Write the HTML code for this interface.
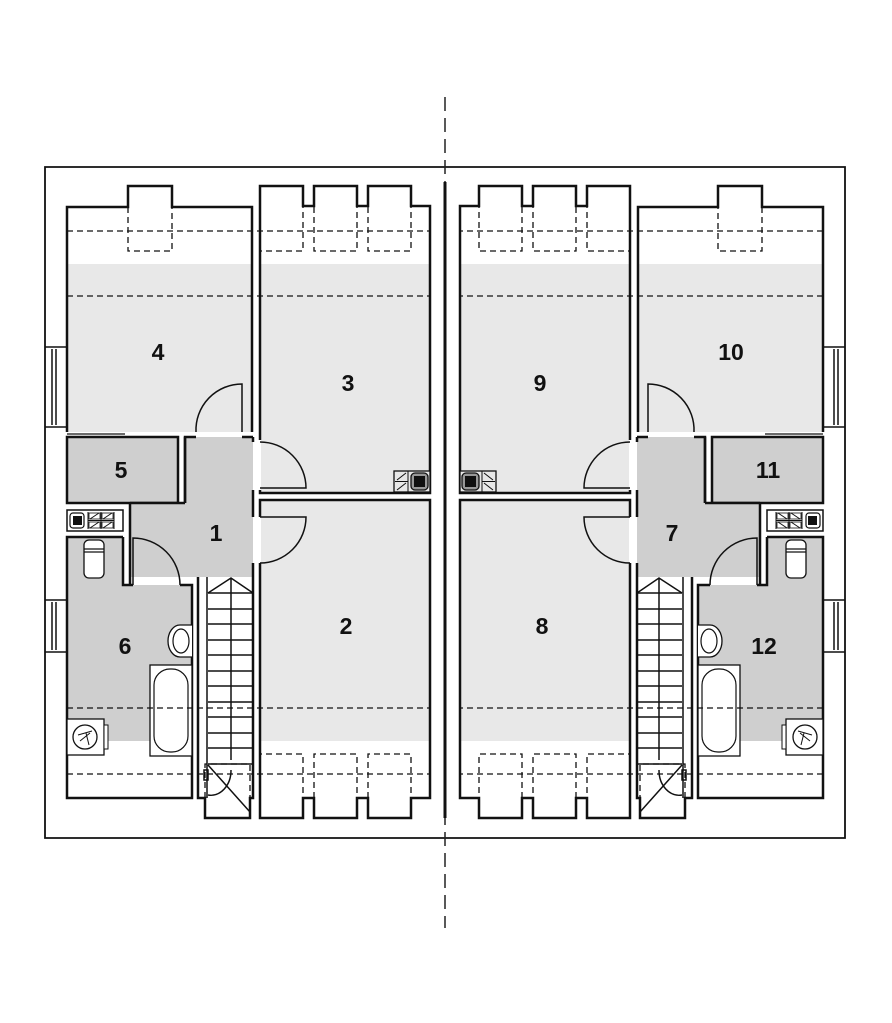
<!DOCTYPE html>
<html><head><meta charset="utf-8"><style>
html,body{margin:0;padding:0;background:#fff}
svg{display:block}
text{font-family:"Liberation Sans",sans-serif;font-weight:bold;font-size:23px;text-anchor:middle;fill:#111}
</style></head><body>
<svg width="892" height="1023" viewBox="0 0 892 1023" xmlns="http://www.w3.org/2000/svg">
<defs>
<g id="L" fill="none" stroke="#111">
  <!-- outer -->
  <path d="M445,167 H45 V838 H445" stroke-width="1.8"/>
  <!-- windows -->
  <g stroke-width="1.5"><path d="M45,347 H66 M45,427 H66 M45,600 H66 M45,652 H66"/>
  <path d="M52,349 V425 M56,349 V425 M52,602 V650 M56,602 V650"/></g>
  <!-- room 4 -->
  <rect x="67" y="264" width="185" height="168" fill="#e8e8e8" stroke="none"/>
  <path d="M252,432 V207 H172 V186 H128 V207 H67 V432" stroke-width="2.5"/>
  <!-- room 3 -->
  <rect x="261" y="264" width="169" height="229" fill="#e8e8e8" stroke="none"/>
  <path d="M260,440 V206 H260 V186 H303 V206 H314 V186 H357 V206 H368 V186 H411 V206 H430 V493 H260 V490" stroke-width="2.5"/>
  <!-- room 2 -->
  <rect x="261" y="500" width="169" height="241" fill="#e8e8e8" stroke="none"/>
  <path d="M260,517 V500 H430 V798 H411 V818 H368 V798 H357 V818 H314 V798 H303 V818 H260 V563" stroke-width="2.5"/>
  <!-- room 5 -->
  <rect x="67" y="437" width="111" height="66" fill="#cfcfcf" stroke-width="2.5"/>
  <path d="M67,434 H125" stroke-width="1.2"/>
  <!-- hall 1 -->
  <path d="M185,437 H253 V577 H130 V503 H185 Z" fill="#cfcfcf" stroke="none"/>
  <path d="M185,503 V437 H196 M242,437 H253 M253,442 V437 M253,490 V517 M253,563 V577 M130,503 H185 M130,503 V585" stroke-width="2.5"/>
  <path d="M185,437 V503" stroke-width="2.5"/>
  <!-- doors -->
  <path d="M242,432 V384 A46,46 0 0 0 196,432" stroke-width="1.5"/>
  <path d="M260,488 H306 A46,46 0 0 0 260,442" stroke-width="1.5"/>
  <path d="M260,517 H306 A46,46 0 0 1 260,563" stroke-width="1.5"/>
  <path d="M133,585 V538 A47,47 0 0 1 180,585" stroke-width="1.5"/>
  <!-- appliance box -->
  <rect x="67" y="510" width="56" height="21" stroke-width="1.5"/>
  <rect x="70" y="513" width="14" height="15" rx="3" stroke-width="1.2"/>
  <rect x="73" y="516" width="9" height="9" fill="#111" stroke="none"/>
  <path d="M88,512 V529 M101,512 V529 M114,512 V529 M88,520.5 H114" stroke-width="1"/>
  <path d="M90,519 L99,513 M90,528 L99,522 M103,519 L112,513 M103,528 L112,522" stroke-width="1"/>
  <rect x="89" y="513" width="11" height="6" stroke-width="0.8"/>
  <rect x="89" y="522" width="11" height="6" stroke-width="0.8"/>
  <rect x="102" y="513" width="11" height="6" stroke-width="0.8"/>
  <rect x="102" y="522" width="11" height="6" stroke-width="0.8"/>
  <!-- room 6 -->
  <path d="M67,537 H123 V585 H192 V741 H67 Z" fill="#cfcfcf" stroke="none"/>
  <path d="M123,537 H67 V798 H192 V585 H180 M133,585 H123 V537" stroke-width="2.5"/>
  <rect x="84" y="540" width="20" height="38" rx="5" fill="#fff" stroke-width="1.3"/>
  <path d="M84,549 H104 M84,552 H104" stroke-width="1.2"/>
  <path d="M192,625 H180 A12,16 0 0 0 180,657 H192" fill="#fff" stroke-width="1.3"/>
  <ellipse cx="181" cy="641" rx="8" ry="12" fill="#fff" stroke-width="1.2"/>
  <rect x="150" y="665" width="42" height="91" fill="#fff" stroke-width="1.3"/>
  <rect x="154" y="669" width="34" height="83" rx="16" stroke-width="1.2"/>
  <rect x="67" y="719" width="37" height="36" fill="#fff" stroke-width="1.3"/>
  <rect x="104" y="725" width="4" height="24" fill="#fff" stroke-width="1"/>
  <circle cx="85" cy="737" r="12" fill="#fff" stroke-width="1.3"/>
  <path d="M78,735 L92,731 M80,741 L90,733 M86,733 L89,745" stroke-width="1"/>
  <!-- stairs -->
  <path d="M198,577 V798 H205 V818 H250 V798 H253 V577" stroke-width="2.5"/>
  <path d="M207,577 V798" stroke-width="1.5"/>
  <g stroke-width="1.5">
  <path d="M208,593 L231,578 L253,593 M231,578 V760"/>
  <path d="M208,593 H253 M208,609 H253 M208,624 H253 M208,640 H253 M208,655 H253 M208,671 H253 M208,686 H253 M208,702 H253 M208,717 H253 M208,733 H253 M208,748 H253 M208,764 H253"/>
  <path d="M208,765 L250,812 M208,795 A20,25 0 0 0 231,770"/>
  <rect x="204" y="770" width="4" height="10"/>
  </g>
  <!-- dashed -->
  <g stroke-width="1.3" stroke-dasharray="6,4">
  <path d="M67,231 H430 M67,296 H430 M67,708 H430 M67,774 H430"/>
  <path d="M128,207 V251 H172 V207 M260,207 V251 H303 V207 M314,207 V251 H357 V207 M368,207 V251 H411 V207"/>
  <path d="M205,798 V764 H250 V818 M260,798 V754 H303 V798 M314,798 V754 H357 V798 M368,798 V754 H411 V798"/>
  </g>
  <!-- chimney/vent box -->
  <rect x="394" y="471" width="36" height="21" fill="#e8e8e8" stroke-width="1.3"/>
  <path d="M408,471 V492 M395,481.5 H408" stroke-width="1"/>
  <path d="M397,480 L406,473 M397,490 L406,483" stroke-width="1"/>
  <rect x="411" y="473" width="17" height="17" rx="4" fill="#999" stroke-width="1.3"/>
  <rect x="414" y="476" width="11" height="11" fill="#111" stroke="none"/>
</g>
</defs>
<use href="#L"/>
<use href="#L" transform="translate(890,0) scale(-1,1)"/>
<path d="M445,97 V928" stroke="#222" stroke-width="1.5" stroke-dasharray="14,7" fill="none"/>
<path d="M445,182 V818" stroke="#111" stroke-width="3" fill="none"/>
<text x="158" y="360">4</text>
<text x="348" y="391">3</text>
<text x="121" y="478">5</text>
<text x="216" y="541">1</text>
<text x="125" y="654">6</text>
<text x="346" y="634">2</text>
<text x="540" y="391">9</text>
<text x="731" y="360">10</text>
<text x="768" y="478">11</text>
<text x="672" y="541">7</text>
<text x="542" y="634">8</text>
<text x="764" y="654">12</text>
</svg>
</body></html>
